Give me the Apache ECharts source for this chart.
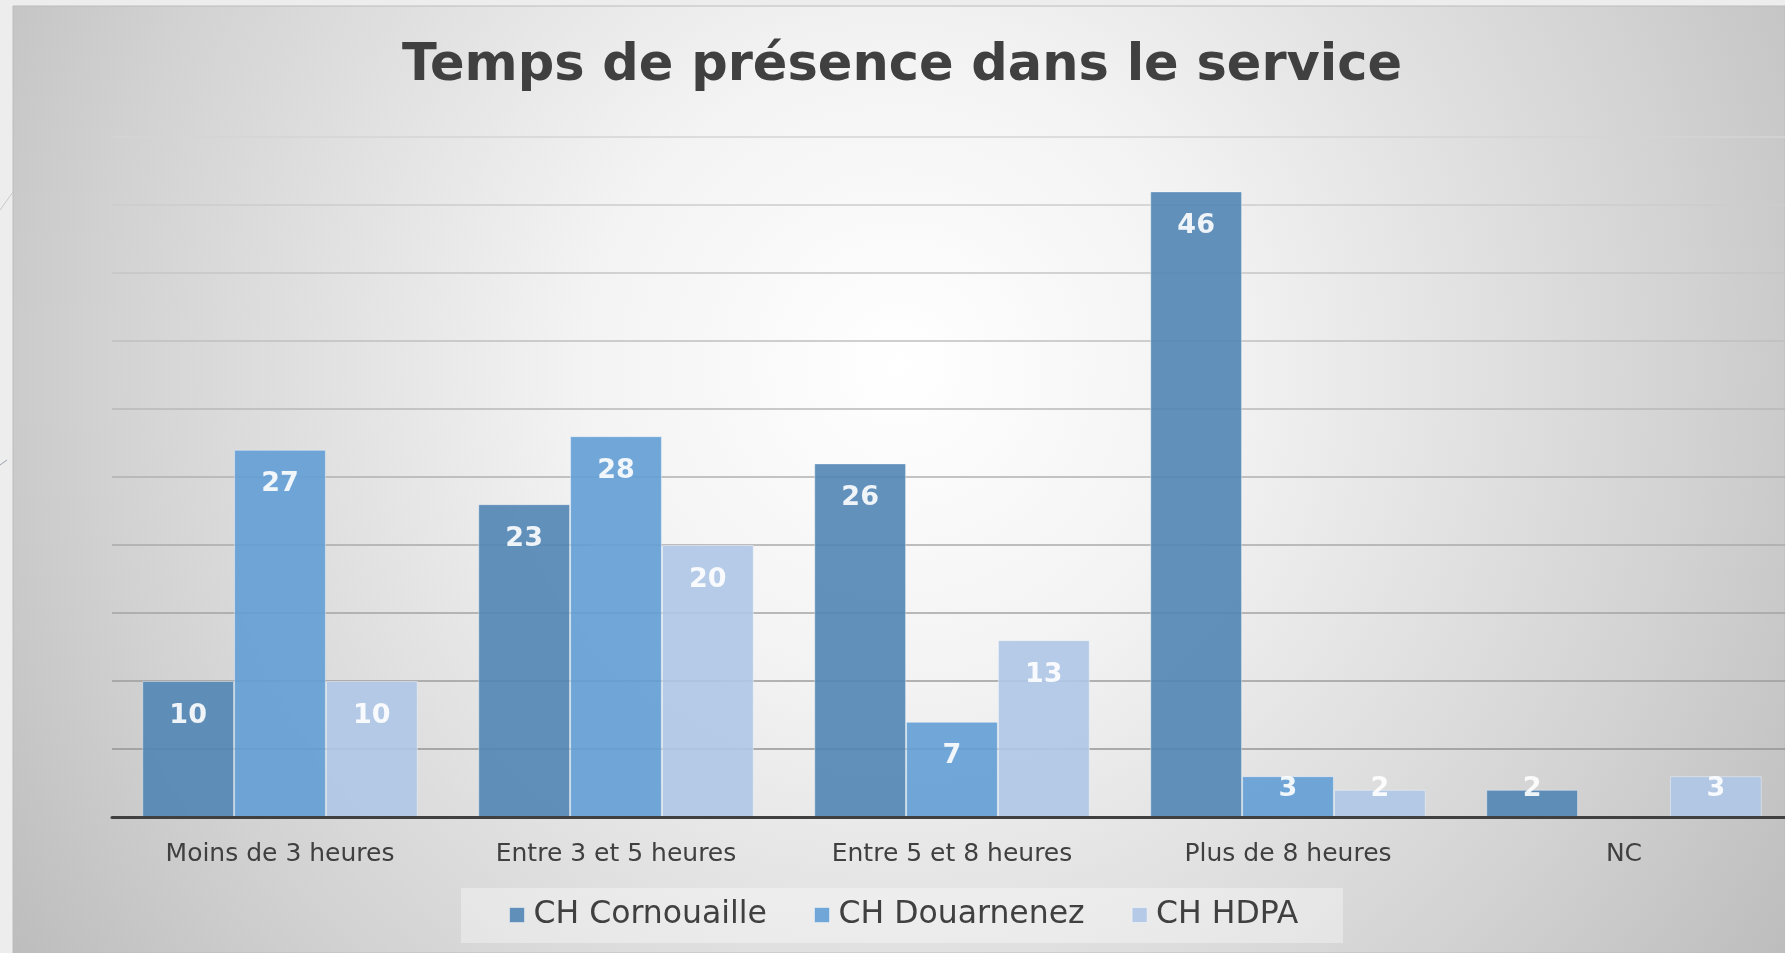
<!DOCTYPE html>
<html>
<head>
<meta charset="utf-8">
<script src="https://cdn.jsdelivr.net/npm/echarts@6/dist/echarts.min.js"></script>
<style>
  html, body { margin: 0; padding: 0; background: #ededed; }
  #chart { width: 1785px; height: 953px; }
</style>
</head>
<body>
<div id="chart"></div>
<script>
// ---- Data ----
const titleText = 'Temps de présence dans le service';
const categories = ['Moins de 3 heures', 'Entre 3 et 5 heures', 'Entre 5 et 8 heures', 'Plus de 8 heures', 'NC'];
const seriesNames = ['CH Cornouaille', 'CH Douarnenez', 'CH HDPA'];
const cornouaille = [10, 23, 26, 46, 2];
const douarnenez = [27, 28, 7, 3, null];
const hdpa = [10, 20, 13, 2, 3];
const yMin = 0, yMax = 50, yInterval = 5;

// ---- Styling ----
const FONT = '"DejaVu Sans", "Liberation Sans", sans-serif';
const colors = ['#5185b4', '#629ed5', '#aec7e5'];
const gridColors = ['#8f8f8f', '#959595', '#9c9c9c', '#a3a3a3', '#aaaaaa', '#b1b1b1', '#b8b8b8', '#bfbfbf', '#c6c6c6', '#cdcdcd', '#d4d4d4'];
const legendLabelWidths = [233, 256, 143];

function buildData(values) {
  return values.map(v => {
    if (v === null) return { value: null, label: { show: false } };
    // Short bars: Excel keeps the label inside the plot, above the axis
    if (v < 3.5) {
      return { value: v, label: { position: 'insideBottom', distance: 15 } };
    }
    return { value: v };
  });
}

const allSeries = [cornouaille, douarnenez, hdpa].map((vals, i) => ({
  name: seriesNames[i],
  type: 'bar',
  data: buildData(vals),
  barGap: '0%',
  barCategoryGap: '18%',
  itemStyle: {
    color: colors[i],
    opacity: 0.9,
    borderColor: 'rgba(255,255,255,0.45)',
    borderWidth: 1
  },
  label: {
    show: true,
    position: 'insideTop',
    distance: 21,
    color: '#ffffff',
    fontFamily: FONT,
    fontWeight: 'bold',
    fontSize: 27
  },
  emphasis: { disabled: true }
}));

const chart = echarts.init(document.getElementById('chart'), null, { renderer: 'canvas' });

const option = {
  backgroundColor: '#ededed',
  animation: false,
  graphic: [
    {
      type: 'rect', z: -10,
      shape: { x: 13, y: 6, width: 1772, height: 947 },
      style: {
        fill: {
          type: 'radial', x: 0.5, y: 0.38, r: 1.12,
          colorStops: [
            { offset: 0, color: '#ffffff' },
            { offset: 0.3, color: '#f3f3f3' },
            { offset: 0.75, color: '#d2d2d2' },
            { offset: 1, color: '#bdbdbd' }
          ]
        },
        stroke: '#bcbcbc', lineWidth: 1
      }
    },
    {
      type: 'line', z: -9,
      shape: { x1: 0, y1: 210, x2: 13, y2: 192 },
      style: { stroke: '#c8c8c8', lineWidth: 1 }
    },
    {
      type: 'line', z: -9,
      shape: { x1: 0, y1: 465, x2: 7, y2: 460 },
      style: { stroke: '#9aa0b0', lineWidth: 1 }
    },
    {
      type: 'rect', z: -8,
      shape: { x: 461, y: 888, width: 882, height: 55 },
      style: { fill: 'rgba(255,255,255,0.35)' }
    }
  ],
  title: {
    text: titleText,
    left: 402,
    top: 41,
    padding: 0,
    textStyle: {
      fontFamily: FONT,
      fontWeight: 'bold',
      fontSize: 51,
      color: '#404040'
    }
  },
  legend: {
    data: seriesNames,
    left: 509,
    top: 899,
    padding: 0,
    icon: 'rect',
    itemWidth: 15,
    itemHeight: 15,
    itemGap: 47,
    itemStyle: { borderColor: 'rgba(255,255,255,0.5)', borderWidth: 1 },
    formatter: name => '{t' + seriesNames.indexOf(name) + '|' + name + '}',
    textStyle: {
      fontFamily: FONT,
      fontSize: 31.5,
      color: '#404040',
      padding: [0, 0, 0, 4],
      rich: {
        t0: { fontFamily: FONT, fontSize: 31.5, color: '#404040', width: legendLabelWidths[0] },
        t1: { fontFamily: FONT, fontSize: 31.5, color: '#404040', width: legendLabelWidths[1] },
        t2: { fontFamily: FONT, fontSize: 31.5, color: '#404040', width: legendLabelWidths[2] }
      }
    }
  },
  grid: {
    left: 112,
    top: 137,
    width: 1680,
    height: 680,
    containLabel: false,
    outerBoundsMode: 'none'
  },
  xAxis: {
    type: 'category',
    data: categories,
    axisTick: { show: false },
    axisLine: { show: true, lineStyle: { color: '#404040', width: 3 } },
    axisLabel: {
      fontFamily: FONT,
      fontSize: 25,
      color: '#404040',
      margin: 25
    },
    z: 5
  },
  yAxis: {
    type: 'value',
    min: yMin,
    max: yMax,
    interval: yInterval,
    axisLabel: { show: false },
    axisLine: { show: false },
    axisTick: { show: false },
    splitLine: { show: true, lineStyle: { color: gridColors, width: 1.5 } }
  },
  series: allSeries
};

chart.setOption(option);
</script>
</body>
</html>
